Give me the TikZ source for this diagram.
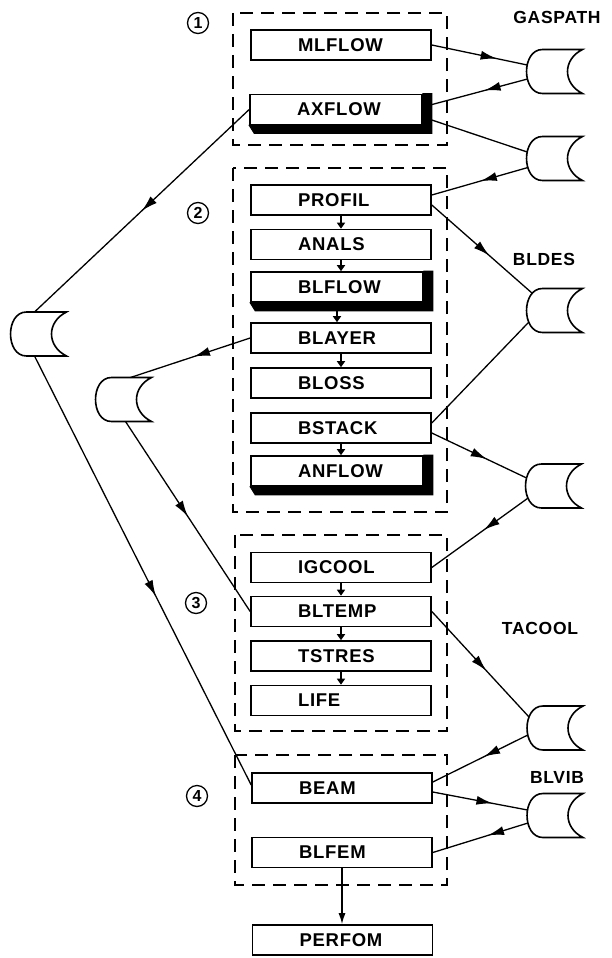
\documentclass[tikz,border=0pt]{standalone}
\usepackage{fontspec}
\usepackage{tikz}
\usetikzlibrary{arrows.meta, calc, decorations.markings}
\newfontfamily\boxfont[LetterSpace=4.0]{Liberation Sans}

\tikzset{
  modbox/.style={draw, line width=1.6pt, fill=white, minimum height=30pt,
    text width=180pt, inner xsep=0pt, inner ysep=0pt, align=left,
    font=\boxfont\bfseries\fontsize{18.5}{20}\selectfont,
    execute at begin node={\hspace*{47pt}}},
  shadebox/.style={modbox, text width=172pt},
  tapenode/.style={minimum width=56pt, minimum height=44pt, inner sep=0pt, outer sep=0pt},
  tapeline/.style={line width=1.6pt},
  groupbox/.style={line width=1.5pt, dash pattern=on 13pt off 8pt},
  link/.style={line width=1.3pt},
  midarrow/.style={postaction={decorate}, decoration={markings,
    mark=at position #1 with {\arrow{Latex[length=16pt,width=9pt]}}}},
  midarrow/.default=0.55,
  flow/.style={line width=1.8pt, -{Triangle[length=6pt,width=8pt]}},
  numcircle/.style={circle, draw, line width=1.3pt, minimum size=21pt, inner sep=0pt,
    font=\boxfont\bfseries\fontsize{16}{16}\selectfont},
  filelabel/.style={font=\boxfont\bfseries\fontsize{17.5}{18}\selectfont}
}

\begin{document}
\begin{tikzpicture}[x=1pt, y=-1pt]
  \useasboundingbox (0,0) rectangle (612,958);

  % Program groups
  \draw[groupbox] (233,13) rectangle (447,145);
  \draw[groupbox] (233,168) rectangle (447,512);
  \draw[groupbox] (235,535) rectangle (447,731);
  \draw[groupbox] (235,755) rectangle (447,885);

  \node[numcircle] (num1) at (198,23) {1};
  \node[numcircle] (num2) at (198,213) {2};
  \node[numcircle] (num3) at (196,603) {3};
  \node[numcircle] (num4) at (197,796) {4};

  % Modules
  \node[modbox]   (mlflow) at (341,45)    {MLFLOW};
  \node[shadebox] (axflow) at (336,109.5) {AXFLOW};
  \node[modbox]   (profil) at (341,200)   {PROFIL};
  \node[modbox]   (anals)  at (341,244.5) {ANALS};
  \node[shadebox] (blflow) at (337,287)   {BLFLOW};
  \node[modbox]   (blayer) at (341,338)   {BLAYER};
  \node[modbox]   (bloss)  at (341,383)   {BLOSS};
  \node[modbox]   (bstack) at (341,428)   {BSTACK};
  \node[shadebox] (anflow) at (337,471)   {ANFLOW};
  \node[modbox]   (igcool) at (341,567.5) {IGCOOL};
  \node[modbox]   (bltemp) at (341,611.5) {BLTEMP};
  \node[modbox]   (tstres) at (341,656)   {TSTRES};
  \node[modbox]   (life)   at (341,700.5) {LIFE};
  \node[modbox]   (beam)   at (342,788)   {BEAM};
  \node[modbox]   (blfem)  at (342,852.5) {BLFEM};
  \node[modbox]   (perfom) at (342.5,940) {PERFOM};

  % Shadows
  \foreach \b in {axflow,blflow,anflow}
    \filldraw[line width=1pt] (\b.north east) -- ++(9,0) -- ($(\b.south east)+(9,8)$)
      -- ($(\b.south west)+(5,8)$) -- (\b.south west) -- (\b.south east) -- cycle;

  % Flow inside groups
  \foreach \a/\b in {profil/anals, anals/blflow, blflow/blayer, blayer/bloss,
                     bstack/anflow, igcool/bltemp, bltemp/tstres, tstres/life}
    \draw[flow] (\a.south) -- (\a.south |- \b.north);
  \draw[line width=1.5pt, -{Latex[length=11pt,width=7pt]}] (blfem.south) -- (blfem.south |- perfom.north);

  % Files
  \node[tapenode] (gasA)    at (554.5,71.5)  {};
  \node[tapenode] (gasB)    at (554.5,158.5) {};
  \node[tapenode] (bldesT)  at (554.5,310.5) {};
  \node[tapenode] (stackT)  at (553.5,486)   {};
  \node[tapenode] (tacoolT) at (555,728)     {};
  \node[tapenode] (blvibT)  at (555,815.5)   {};
  \node[tapenode] (leftA)   at (38.5,334)    {};
  \node[tapenode] (leftB)   at (123.5,399.5) {};

  \foreach \t in {gasA,gasB,bldesT,stackT,tacoolT,blvibT,leftA,leftB}
    \draw[tapeline] ([xshift=16pt]\t.north west) -- (\t.north east)
      .. controls ([xshift=-20pt,yshift=-10pt]\t.north east) and ([xshift=-20pt,yshift=10pt]\t.south east) .. (\t.south east)
      -- ([xshift=16pt]\t.south west)
      .. controls ([xshift=-5.3pt]\t.south west) and ([xshift=-5.3pt]\t.north west) .. ([xshift=16pt]\t.north west);

  \node[filelabel] (gaspath) at (557,17)  {GASPATH};
  \node[filelabel] (bldes)   at (544,259) {BLDES};
  \node[filelabel] (tacool)  at (540,628) {TACOOL};
  \node[filelabel] (blvib)   at (557,777) {BLVIB};

  % File connections, right
  \draw[link, midarrow=0.68] (mlflow.east) -- ($(gasA.west)+(0.7,-6.5)$);
  \draw[link, midarrow=0.41] ($(gasA.west)+(1,7.5)$) -- ($(axflow.east)+(0,-2.5)$);
  \draw[link] ($(axflow.east)+(0,7.5)$) -- ($(gasB.west)+(0.7,-6.5)$);
  \draw[link, midarrow=0.49] ($(gasB.west)+(1.4,9)$) -- ($(profil.east)+(0,-5)$);
  \draw[link, midarrow=0.57] ($(profil.east)+(0,5)$) -- ($(bldesT.west)+(6,-17)$);
  \draw[link] ($(bldesT.west)+(2.4,11.5)$) -- ($(bstack.east)+(0,-5)$);
  \draw[link, midarrow=0.58] ($(bstack.east)+(0,5)$) -- ($(stackT.west)+(1.1,-8)$);
  \draw[link, midarrow=0.46] ($(stackT.west)+(2.6,12)$) -- (igcool.east);
  \draw[link, midarrow=0.56] (bltemp.east) -- ($(tacoolT.west)+(2,-11)$);
  \draw[link, midarrow=0.46] ($(tacoolT.west)+(0.8,7)$) -- ($(beam.east)+(0,-6)$);
  \draw[link, midarrow=0.63] ($(beam.east)+(0,4)$) -- ($(blvibT.west)+(0.5,-5.5)$);
  \draw[link, midarrow=0.42] ($(blvibT.west)+(1,7.5)$) -- (blfem.east);

  % File connections, left
  \draw[link, midarrow=0.5]  (axflow.west) -- ($(leftA.north west)+(24,0)$);
  \draw[link, midarrow=0.56] ($(leftA.south west)+(24,0)$) -- ($(beam.west)+(0,-3)$);
  \draw[link, midarrow=0.47] (blayer.west) -- ($(leftB.north west)+(35,0)$);
  \draw[link, midarrow=0.5]  ($(leftB.south west)+(30,0)$) -- (bltemp.west);
\end{tikzpicture}
\end{document}
